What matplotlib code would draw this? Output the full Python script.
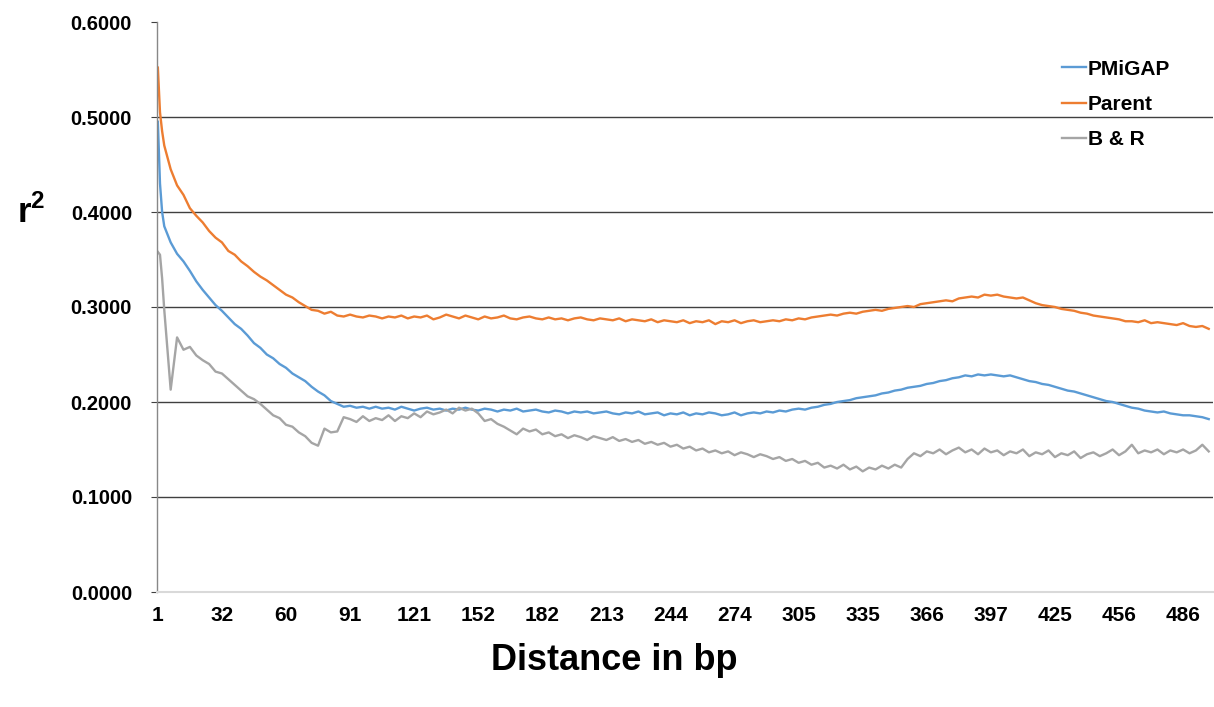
import matplotlib
matplotlib.use('Agg')
from matplotlib import pyplot as plt
import numpy as np

plt.rcParams['font.family'] = ['Liberation Sans', 'DejaVu Sans']
plt.rcParams['font.weight'] = 'bold'
plt.rcParams['mathtext.fontset'] = 'custom'
plt.rcParams['mathtext.rm'] = 'Liberation Sans:bold'
plt.rcParams['mathtext.bf'] = 'Liberation Sans:bold'

# category positions of the sampled points (index along the distance axis)
pos = [0, 1, 2] + list(range(3, 495, 3))

tick_pos = list(range(0, 481, 30))
tick_labels = ['1', '32', '60', '91', '121', '152', '182', '213', '244', '274',
               '305', '335', '366', '397', '425', '456', '486']

pmigap = [
    0.495, 0.430, 0.400, 0.385, 0.368, 0.356, 0.348, 0.338, 0.327, 0.318,
    0.310, 0.302, 0.296, 0.289, 0.282, 0.277, 0.270, 0.262, 0.257, 0.250,
    0.246, 0.240, 0.236, 0.230, 0.226, 0.222, 0.216, 0.211, 0.207, 0.201,
    0.198, 0.195, 0.196, 0.194, 0.195, 0.193, 0.195, 0.193, 0.194, 0.192,
    0.195, 0.193, 0.191, 0.193, 0.194, 0.192, 0.193, 0.191, 0.193, 0.192,
    0.194, 0.192, 0.191, 0.193, 0.192, 0.190, 0.192, 0.191, 0.193, 0.190,
    0.191, 0.192, 0.190, 0.189, 0.191, 0.190, 0.188, 0.190, 0.189, 0.190,
    0.188, 0.189, 0.190, 0.188, 0.187, 0.189, 0.188, 0.190, 0.187, 0.188,
    0.189, 0.186, 0.188, 0.187, 0.189, 0.186, 0.188, 0.187, 0.189, 0.188,
    0.186, 0.187, 0.189, 0.186, 0.188, 0.189, 0.188, 0.190, 0.189, 0.191,
    0.190, 0.192, 0.193, 0.192, 0.194, 0.195, 0.197, 0.198, 0.200, 0.201,
    0.202, 0.204, 0.205, 0.206, 0.207, 0.209, 0.210, 0.212, 0.213, 0.215,
    0.216, 0.217, 0.219, 0.220, 0.222, 0.223, 0.225, 0.226, 0.228, 0.227,
    0.229, 0.228, 0.229, 0.228, 0.227, 0.228, 0.226, 0.224, 0.222, 0.221,
    0.219, 0.218, 0.216, 0.214, 0.212, 0.211, 0.209, 0.207, 0.205, 0.203,
    0.201, 0.200, 0.198, 0.196, 0.194, 0.193, 0.191, 0.190, 0.189, 0.190,
    0.188, 0.187, 0.186, 0.186, 0.185, 0.184, 0.182,
]

parent = [
    0.552, 0.505, 0.485, 0.470, 0.445, 0.428, 0.418, 0.404, 0.396, 0.389,
    0.380, 0.373, 0.368, 0.359, 0.355, 0.348, 0.343, 0.337, 0.332, 0.328,
    0.323, 0.318, 0.313, 0.310, 0.305, 0.301, 0.297, 0.296, 0.293, 0.295,
    0.291, 0.290, 0.292, 0.290, 0.289, 0.291, 0.290, 0.288, 0.290, 0.289,
    0.291, 0.288, 0.290, 0.289, 0.291, 0.287, 0.289, 0.292, 0.290, 0.288,
    0.291, 0.289, 0.287, 0.290, 0.288, 0.289, 0.291, 0.288, 0.287, 0.289,
    0.290, 0.288, 0.287, 0.289, 0.287, 0.288, 0.286, 0.288, 0.289, 0.287,
    0.286, 0.288, 0.287, 0.286, 0.288, 0.285, 0.287, 0.286, 0.285, 0.287,
    0.284, 0.286, 0.285, 0.284, 0.286, 0.283, 0.285, 0.284, 0.286, 0.282,
    0.285, 0.284, 0.286, 0.283, 0.285, 0.286, 0.284, 0.285, 0.286, 0.285,
    0.287, 0.286, 0.288, 0.287, 0.289, 0.290, 0.291, 0.292, 0.291, 0.293,
    0.294, 0.293, 0.295, 0.296, 0.297, 0.296, 0.298, 0.299, 0.300, 0.301,
    0.300, 0.303, 0.304, 0.305, 0.306, 0.307, 0.306, 0.309, 0.310, 0.311,
    0.310, 0.313, 0.312, 0.313, 0.311, 0.310, 0.309, 0.310, 0.307, 0.304,
    0.302, 0.301, 0.300, 0.298, 0.297, 0.296, 0.294, 0.293, 0.291, 0.290,
    0.289, 0.288, 0.287, 0.285, 0.285, 0.284, 0.286, 0.283, 0.284, 0.283,
    0.282, 0.281, 0.283, 0.280, 0.279, 0.280, 0.277,
]

b_and_r = [
    0.358, 0.355, 0.330, 0.297, 0.213, 0.268, 0.255, 0.258, 0.249, 0.244,
    0.240, 0.232, 0.230, 0.224, 0.218, 0.212, 0.206, 0.203, 0.198, 0.192,
    0.186, 0.183, 0.176, 0.174, 0.168, 0.164, 0.157, 0.154, 0.172, 0.168,
    0.169, 0.184, 0.182, 0.179, 0.185, 0.180, 0.183, 0.181, 0.186, 0.180,
    0.185, 0.183, 0.188, 0.184, 0.190, 0.187, 0.189, 0.192, 0.188, 0.194,
    0.191, 0.193, 0.188, 0.180, 0.182, 0.177, 0.174, 0.170, 0.166, 0.172,
    0.169, 0.171, 0.166, 0.168, 0.164, 0.166, 0.162, 0.165, 0.163, 0.160,
    0.164, 0.162, 0.160, 0.163, 0.159, 0.161, 0.158, 0.160, 0.156, 0.158,
    0.155, 0.157, 0.153, 0.155, 0.151, 0.153, 0.149, 0.151, 0.147, 0.149,
    0.146, 0.148, 0.144, 0.147, 0.145, 0.142, 0.145, 0.143, 0.140, 0.142,
    0.138, 0.140, 0.136, 0.138, 0.134, 0.136, 0.131, 0.133, 0.130, 0.134,
    0.129, 0.132, 0.127, 0.131, 0.129, 0.133, 0.130, 0.134, 0.131, 0.140,
    0.146, 0.143, 0.148, 0.146, 0.150, 0.145, 0.149, 0.152, 0.147, 0.150,
    0.145, 0.151, 0.147, 0.149, 0.144, 0.148, 0.146, 0.150, 0.143, 0.147,
    0.145, 0.149, 0.142, 0.146, 0.144, 0.148, 0.141, 0.145, 0.147, 0.143,
    0.146, 0.150, 0.144, 0.148, 0.155, 0.146, 0.149, 0.147, 0.150, 0.145,
    0.149, 0.147, 0.150, 0.146, 0.149, 0.155, 0.148,
]

fig = plt.figure(figsize=(12.14, 7.07), dpi=100)
ax = fig.add_axes([157 / 1214, 1 - 592 / 707, (1213 - 157) / 1214, (592 - 22) / 707])

ax.plot(pos, pmigap, color='#5B9BD5', lw=1.7, label='PMiGAP')
ax.plot(pos, parent, color='#ED7D31', lw=1.7, label='Parent')
ax.plot(pos, b_and_r, color='#A5A5A5', lw=1.7, label='B & R')

ax.set_xlim(-0.4, 494)
ax.set_ylim(0, 0.6)
ax.set_yticks(np.arange(0, 0.61, 0.1))
ax.set_yticklabels(['%.4f' % v for v in np.arange(0, 0.61, 0.1)], fontsize=14.5, fontweight='bold')
ax.set_xticks(tick_pos)
ax.set_xticklabels(tick_labels, fontsize=15, fontweight='bold')
ax.tick_params(axis='x', length=0, pad=10)
ax.tick_params(axis='y', length=4, color='#404040', pad=14)

for v in np.arange(0.1, 0.51, 0.1):
    ax.axhline(v, color='#404040', lw=1.0, zorder=0)

for s in ['top', 'right']:
    ax.spines[s].set_visible(False)
ax.spines['left'].set_color('#888888')
ax.spines['left'].set_linewidth(1.0)
ax.spines['bottom'].set_color('#d9d9d9')
ax.spines['bottom'].set_linewidth(1.5)

fig.text(614 / 1214, 1 - 661 / 707, 'Distance in bp', fontsize=26, fontweight='bold',
         ha='center', va='center')
fig.text(31 / 1214, 1 - 212 / 707, r'r$^{\mathbf{2}}$', fontsize=25, fontweight='bold',
         ha='center', va='center')

leg = ax.legend(loc='upper left', bbox_to_anchor=(1043 / 1214, 1 - 41 / 707),
                bbox_transform=fig.transFigure, frameon=False, fontsize=15,
                handlelength=1.15, handletextpad=0.1, labelspacing=0.78)
for t in leg.get_texts():
    t.set_fontweight('bold')

fig.savefig('out.png', dpi=100)
